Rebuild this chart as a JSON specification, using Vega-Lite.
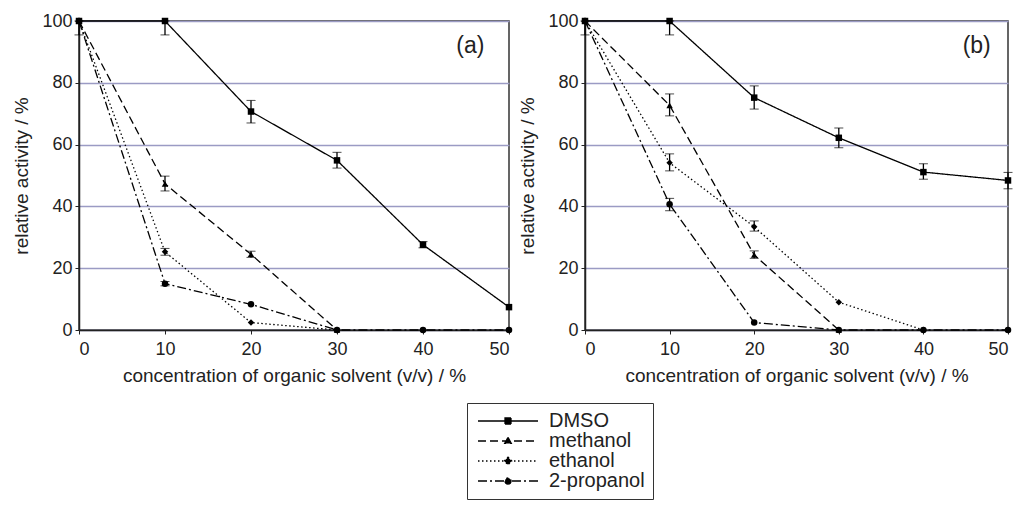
{
  "$schema": "https://vega.github.io/schema/vega-lite/v6.json",
  "background": "white",
  "padding": {"left": 12, "top": 11, "right": 5, "bottom": 0},
  "spacing": 76,
  "bounds": "flush",
  "config": {
    "font": "Liberation Sans",
    "view": {"stroke": "#333", "strokeWidth": 1.5},
    "axis": {
      "labelFont": "Liberation Sans", "titleFont": "Liberation Sans",
      "labelFontSize": 18, "titleFontSize": 19, "titleFontWeight": "normal",
      "labelColor": "#222", "titleColor": "#222",
      "domainColor": "#222", "domainWidth": 1.5, "tickColor": "#222", "tickSize": 4
    },
    "point": {"filled": true, "color": "black", "size": 42, "opacity": 1, "clip": false}
  },
  "datasets": {
    "pts": [
      {"panel": "a", "solvent": "DMSO", "conc": 0, "value": 100},
      {"panel": "a", "solvent": "DMSO", "conc": 10, "value": 100},
      {"panel": "a", "solvent": "DMSO", "conc": 20, "value": 70.7},
      {"panel": "a", "solvent": "DMSO", "conc": 30, "value": 54.9},
      {"panel": "a", "solvent": "DMSO", "conc": 40, "value": 27.6},
      {"panel": "a", "solvent": "DMSO", "conc": 50, "value": 7.4},
      {"panel": "a", "solvent": "methanol", "conc": 0, "value": 100},
      {"panel": "a", "solvent": "methanol", "conc": 10, "value": 47.3},
      {"panel": "a", "solvent": "methanol", "conc": 20, "value": 24.5},
      {"panel": "a", "solvent": "methanol", "conc": 30, "value": 0},
      {"panel": "a", "solvent": "ethanol", "conc": 0, "value": 100},
      {"panel": "a", "solvent": "ethanol", "conc": 10, "value": 25.3},
      {"panel": "a", "solvent": "ethanol", "conc": 20, "value": 2.4},
      {"panel": "a", "solvent": "ethanol", "conc": 30, "value": 0},
      {"panel": "a", "solvent": "2-propanol", "conc": 0, "value": 100},
      {"panel": "a", "solvent": "2-propanol", "conc": 10, "value": 15.0},
      {"panel": "a", "solvent": "2-propanol", "conc": 20, "value": 8.3},
      {"panel": "a", "solvent": "2-propanol", "conc": 30, "value": 0},
      {"panel": "a", "solvent": "2-propanol", "conc": 40, "value": 0},
      {"panel": "a", "solvent": "2-propanol", "conc": 50, "value": 0},
      {"panel": "b", "solvent": "DMSO", "conc": 0, "value": 100},
      {"panel": "b", "solvent": "DMSO", "conc": 10, "value": 100},
      {"panel": "b", "solvent": "DMSO", "conc": 20, "value": 75.2},
      {"panel": "b", "solvent": "DMSO", "conc": 30, "value": 62.2},
      {"panel": "b", "solvent": "DMSO", "conc": 40, "value": 51.1},
      {"panel": "b", "solvent": "DMSO", "conc": 50, "value": 48.4},
      {"panel": "b", "solvent": "methanol", "conc": 0, "value": 100},
      {"panel": "b", "solvent": "methanol", "conc": 10, "value": 72.7},
      {"panel": "b", "solvent": "methanol", "conc": 20, "value": 24.3},
      {"panel": "b", "solvent": "methanol", "conc": 30, "value": 0},
      {"panel": "b", "solvent": "ethanol", "conc": 0, "value": 100},
      {"panel": "b", "solvent": "ethanol", "conc": 10, "value": 54.1},
      {"panel": "b", "solvent": "ethanol", "conc": 20, "value": 33.4},
      {"panel": "b", "solvent": "ethanol", "conc": 30, "value": 9.0},
      {"panel": "b", "solvent": "ethanol", "conc": 40, "value": 0},
      {"panel": "b", "solvent": "2-propanol", "conc": 0, "value": 100},
      {"panel": "b", "solvent": "2-propanol", "conc": 10, "value": 40.7},
      {"panel": "b", "solvent": "2-propanol", "conc": 20, "value": 2.4},
      {"panel": "b", "solvent": "2-propanol", "conc": 30, "value": 0},
      {"panel": "b", "solvent": "2-propanol", "conc": 40, "value": 0},
      {"panel": "b", "solvent": "2-propanol", "conc": 50, "value": 0}
    ],
    "err": [
      {"panel": "a", "solvent": "DMSO", "conc": 0, "lo": 95.5, "hi": 100},
      {"panel": "a", "solvent": "DMSO", "conc": 10, "lo": 95.5, "hi": 100},
      {"panel": "a", "solvent": "DMSO", "conc": 20, "lo": 67, "hi": 74.3},
      {"panel": "a", "solvent": "DMSO", "conc": 30, "lo": 52.4, "hi": 57.5},
      {"panel": "a", "solvent": "DMSO", "conc": 40, "lo": 26.6, "hi": 28.6},
      {"panel": "a", "solvent": "methanol", "conc": 10, "lo": 45, "hi": 49.8},
      {"panel": "a", "solvent": "methanol", "conc": 20, "lo": 23.5, "hi": 25.5},
      {"panel": "a", "solvent": "ethanol", "conc": 10, "lo": 24.2, "hi": 26.4},
      {"panel": "a", "solvent": "2-propanol", "conc": 10, "lo": 14.3, "hi": 15.7},
      {"panel": "b", "solvent": "DMSO", "conc": 0, "lo": 95.5, "hi": 100},
      {"panel": "b", "solvent": "DMSO", "conc": 10, "lo": 95.5, "hi": 100},
      {"panel": "b", "solvent": "DMSO", "conc": 20, "lo": 71.5, "hi": 79},
      {"panel": "b", "solvent": "DMSO", "conc": 30, "lo": 59, "hi": 65.4},
      {"panel": "b", "solvent": "DMSO", "conc": 40, "lo": 48.8, "hi": 53.8},
      {"panel": "b", "solvent": "DMSO", "conc": 50, "lo": 45.7, "hi": 51},
      {"panel": "b", "solvent": "methanol", "conc": 10, "lo": 69.3, "hi": 76.4},
      {"panel": "b", "solvent": "methanol", "conc": 20, "lo": 23.2, "hi": 25.6},
      {"panel": "b", "solvent": "ethanol", "conc": 10, "lo": 51.5, "hi": 57},
      {"panel": "b", "solvent": "ethanol", "conc": 20, "lo": 32, "hi": 35.3},
      {"panel": "b", "solvent": "2-propanol", "conc": 10, "lo": 38.6, "hi": 42.6}
    ],
    "labels": [
      {"panel": "a", "conc": 45.5, "value": 92, "text": "(a)"},
      {"panel": "b", "conc": 46.3, "value": 92, "text": "(b)"}
    ]
  },
  "hconcat": [
    {
      "width": 430, "height": 309,
      "layer": [
        {
          "data": {"name": "err"},
          "transform": [{"filter": "datum.panel == 'a'"}],
          "mark": {"type": "errorbar", "ticks": {"size": 9, "color": "black", "strokeWidth": 1.3}, "rule": {"color": "black", "strokeWidth": 1.3}, "clip": false},
          "encoding": {
            "x": {"field": "conc", "type": "quantitative", "title": "concentration of organic solvent (v/v) / %"},
            "y": {"field": "lo", "type": "quantitative", "title": "relative activity / %"},
            "y2": {"field": "hi"}
          }
        },
        {
          "data": {"name": "pts"},
          "transform": [{"filter": "datum.panel == 'a'"}],
          "mark": {"type": "line", "color": "black", "strokeWidth": 1.3, "clip": false},
          "encoding": {
            "x": {"field": "conc", "type": "quantitative", "scale": {"domain": [0, 50], "nice": false},
              "axis": {"values": [0, 10, 20, 30, 40, 50], "grid": false, "title": "concentration of organic solvent (v/v) / %", "labelPadding": 6, "titlePadding": 8}},
            "y": {"field": "value", "type": "quantitative", "scale": {"domain": [0, 100], "nice": false},
              "axis": {"values": [0, 20, 40, 60, 80, 100], "grid": true, "gridColor": "#9b9bc4", "gridWidth": 1.3, "title": "relative activity / %", "labelPadding": 3, "titlePadding": 10}},
            "strokeDash": {"field": "solvent", "type": "nominal",
              "scale": {"domain": ["DMSO", "methanol", "ethanol", "2-propanol"], "range": [[1, 0], [8, 4], [1.5, 2.5], [9, 3, 2, 3]]},
              "legend": {
                "orient": "none", "legendX": 388, "legendY": 382, "title": null,
                "strokeColor": "#333", "fillColor": "white", "padding": 8,
                "labelFont": "Liberation Sans", "labelFontSize": 20, "labelColor": "#222",
                "symbolOffset": 23, "labelOffset": 31,
                "symbolSize": 256, "symbolStrokeWidth": 1.3, "symbolStrokeColor": "black", "rowPadding": -1,
                "labelLimit": 250,
                "encode": {
                  "symbols": {"update": {
                    "fill": {"value": "black"},
                    "stroke": {"value": "black"},
                    "shape": {"signal": "datum.value == 'DMSO' ? 'M-3.75,0L3.75,0M-0.375,-0.375L0.375,-0.375L0.375,0.375L-0.375,0.375Z' : datum.value == 'methanol' ? 'M-3.75,0L3.75,0M0,-0.45L0.41,0.3L-0.41,0.3Z' : datum.value == 'ethanol' ? 'M-3.75,0L3.75,0M0,-0.47L0.47,0L0,0.47L-0.47,0Z' : 'M-3.75,0L3.75,0M0.375,0A0.375,0.375 0 1,1 -0.375,0A0.375,0.375 0 1,1 0.375,0Z'"}
                  }}
                }
              }
            }
          }
        },
        {"data": {"name": "pts"}, "transform": [{"filter": "datum.panel == 'a' && datum.solvent == 'DMSO'"}], "mark": {"type": "point", "shape": "square"},
          "encoding": {"x": {"field": "conc", "type": "quantitative"}, "y": {"field": "value", "type": "quantitative"}}},
        {"data": {"name": "pts"}, "transform": [{"filter": "datum.panel == 'a' && datum.solvent == 'methanol'"}], "mark": {"type": "point", "shape": "triangle-up"},
          "encoding": {"x": {"field": "conc", "type": "quantitative"}, "y": {"field": "value", "type": "quantitative"}}},
        {"data": {"name": "pts"}, "transform": [{"filter": "datum.panel == 'a' && datum.solvent == 'ethanol'"}], "mark": {"type": "point", "shape": "diamond"},
          "encoding": {"x": {"field": "conc", "type": "quantitative"}, "y": {"field": "value", "type": "quantitative"}}},
        {"data": {"name": "pts"}, "transform": [{"filter": "datum.panel == 'a' && datum.solvent == '2-propanol'"}], "mark": {"type": "point", "shape": "circle"},
          "encoding": {"x": {"field": "conc", "type": "quantitative"}, "y": {"field": "value", "type": "quantitative"}}},
        {
          "data": {"name": "labels"},
          "transform": [{"filter": "datum.panel == 'a'"}],
          "mark": {"type": "text", "fontSize": 23, "font": "Liberation Sans", "color": "#222"},
          "encoding": {
            "x": {"field": "conc", "type": "quantitative"},
            "y": {"field": "value", "type": "quantitative"},
            "text": {"field": "text"}
          }
        }
      ]
    },
    {
      "width": 423, "height": 309,
      "layer": [
        {
          "data": {"name": "err"},
          "transform": [{"filter": "datum.panel == 'b'"}],
          "mark": {"type": "errorbar", "ticks": {"size": 9, "color": "black", "strokeWidth": 1.3}, "rule": {"color": "black", "strokeWidth": 1.3}, "clip": false},
          "encoding": {
            "x": {"field": "conc", "type": "quantitative", "title": "concentration of organic solvent (v/v) / %"},
            "y": {"field": "lo", "type": "quantitative", "title": "relative activity / %"},
            "y2": {"field": "hi"}
          }
        },
        {
          "data": {"name": "pts"},
          "transform": [{"filter": "datum.panel == 'b'"}],
          "mark": {"type": "line", "color": "black", "strokeWidth": 1.3, "clip": false},
          "encoding": {
            "x": {"field": "conc", "type": "quantitative", "scale": {"domain": [0, 50], "nice": false},
              "axis": {"values": [0, 10, 20, 30, 40, 50], "grid": false, "title": "concentration of organic solvent (v/v) / %", "labelPadding": 6, "titlePadding": 8}},
            "y": {"field": "value", "type": "quantitative", "scale": {"domain": [0, 100], "nice": false},
              "axis": {"values": [0, 20, 40, 60, 80, 100], "grid": true, "gridColor": "#9b9bc4", "gridWidth": 1.3, "title": "relative activity / %", "labelPadding": 3, "titlePadding": 10}},
            "strokeDash": {"field": "solvent", "type": "nominal",
              "scale": {"domain": ["DMSO", "methanol", "ethanol", "2-propanol"], "range": [[1, 0], [8, 4], [1.5, 2.5], [9, 3, 2, 3]]},
              "legend": null}
          }
        },
        {"data": {"name": "pts"}, "transform": [{"filter": "datum.panel == 'b' && datum.solvent == 'DMSO'"}], "mark": {"type": "point", "shape": "square"},
          "encoding": {"x": {"field": "conc", "type": "quantitative"}, "y": {"field": "value", "type": "quantitative"}}},
        {"data": {"name": "pts"}, "transform": [{"filter": "datum.panel == 'b' && datum.solvent == 'methanol'"}], "mark": {"type": "point", "shape": "triangle-up"},
          "encoding": {"x": {"field": "conc", "type": "quantitative"}, "y": {"field": "value", "type": "quantitative"}}},
        {"data": {"name": "pts"}, "transform": [{"filter": "datum.panel == 'b' && datum.solvent == 'ethanol'"}], "mark": {"type": "point", "shape": "diamond"},
          "encoding": {"x": {"field": "conc", "type": "quantitative"}, "y": {"field": "value", "type": "quantitative"}}},
        {"data": {"name": "pts"}, "transform": [{"filter": "datum.panel == 'b' && datum.solvent == '2-propanol'"}], "mark": {"type": "point", "shape": "circle"},
          "encoding": {"x": {"field": "conc", "type": "quantitative"}, "y": {"field": "value", "type": "quantitative"}}},
        {
          "data": {"name": "labels"},
          "transform": [{"filter": "datum.panel == 'b'"}],
          "mark": {"type": "text", "fontSize": 23, "font": "Liberation Sans", "color": "#222"},
          "encoding": {
            "x": {"field": "conc", "type": "quantitative"},
            "y": {"field": "value", "type": "quantitative"},
            "text": {"field": "text"}
          }
        }
      ]
    }
  ]
}
